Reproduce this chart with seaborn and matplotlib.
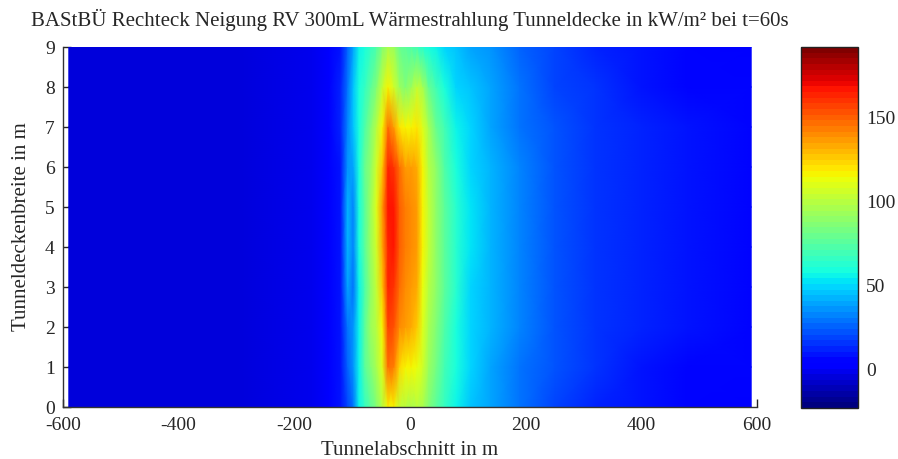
import numpy as np
import matplotlib
matplotlib.use("Agg")
import matplotlib.pyplot as plt
import seaborn as sns

# Tunnel section positions (m) and ceiling width positions (m)
x_pos = [-590, -300, -170, -140, -120, -108, -98, -88, -78, -68,
         -58, -48, -38, -28, -18, -8, 2, 12, 22, 32,
         45, 60, 80, 105, 140, 190, 250, 320, 400, 480, 590]
y_pos = [0, 1, 2, 3, 4, 5, 6, 7, 8, 9]

# Heat radiation at the tunnel ceiling (kW/m²), one list per width position
q_y0 = [-3, -3, -2, 1, 8, 20, 30, 55, 65, 75, 85, 100, 118, 115, 104, 100, 97, 100, 95, 85, 75, 65, 55, 45, 38, 28, 19, 13, 9, 6, 3]
q_y1 = [-3, -3, -2, 2, 8, 25, 35, 55, 75, 85, 95, 110, 146, 143, 122, 118, 115, 114, 105, 92, 82, 70, 58, 48, 40, 30, 21, 15, 10, 7, 4]
q_y2 = [-3, -3, -2, 2, 8, 30, 35, 55, 75, 92, 100, 118, 158, 155, 140, 135, 132, 125, 110, 95, 85, 73, 60, 49, 41, 31, 22, 16, 11, 8, 4]
q_y3 = [-3, -3, -2, 2, 8, 38, 30, 55, 72, 90, 102, 125, 162, 161, 146, 140, 138, 133, 114, 100, 88, 75, 61, 50, 42, 32, 23, 16, 12, 8, 5]
q_y4 = [-3, -3, -2, 2, 8, 42, 32, 58, 75, 92, 108, 133, 165, 166, 150, 143, 141, 137, 116, 102, 90, 77, 62, 51, 43, 33, 23, 17, 12, 9, 5]
q_y5 = [-3, -3, -2, 2, 8, 42, 32, 58, 75, 92, 110, 135, 166, 166, 150, 143, 141, 137, 116, 102, 90, 77, 62, 51, 43, 33, 23, 17, 12, 9, 5]
q_y6 = [-3, -3, -2, 3, 10, 35, 40, 60, 78, 90, 106, 128, 162, 160, 145, 138, 137, 132, 116, 100, 88, 74, 60, 50, 42, 32, 22, 16, 12, 8, 5]
q_y7 = [-3, -3, -2, 3, 12, 32, 45, 60, 72, 85, 98, 118, 145, 138, 120, 116, 118, 120, 110, 95, 80, 68, 57, 48, 40, 30, 21, 15, 11, 8, 4]
q_y8 = [-3, -3, -2, 2, 12, 30, 45, 58, 65, 75, 85, 102, 115, 108, 92, 87, 94, 102, 95, 80, 68, 58, 50, 45, 38, 28, 20, 14, 10, 7, 4]
q_y9 = [-3, -3, -2, 2, 10, 25, 40, 55, 60, 65, 72, 85, 95, 92, 80, 75, 72, 68, 62, 58, 55, 50, 45, 40, 35, 26, 18, 13, 9, 6, 3]

x_ticks = [-600, -400, -200, 0, 200, 400, 600]
y_ticks = [0, 1, 2, 3, 4, 5, 6, 7, 8, 9]
cbar_ticks = [0, 50, 100, 150]
q_min, q_max = -23, 192

sns.set_style("white")
plt.rcParams["font.family"] = ["Liberation Serif", "DejaVu Serif"]
plt.rcParams["font.size"] = 15

field = np.array([q_y0, q_y1, q_y2, q_y3, q_y4, q_y5, q_y6, q_y7, q_y8, q_y9], dtype=float)
X, Y = np.meshgrid(np.array(x_pos, dtype=float), np.array(y_pos, dtype=float))

cmap = plt.get_cmap("jet", 64)

fig = plt.figure(figsize=(8.98, 4.59), dpi=100)
ax = fig.add_axes([63 / 898, 52 / 459, 694 / 898, 360 / 459])
cax = fig.add_axes([801 / 898, 51 / 459, 57 / 898, 361 / 459])

mesh = ax.pcolormesh(X, Y, field, shading="gouraud", cmap=cmap, vmin=q_min, vmax=q_max)

ax.set_xlim(-600, 600)
ax.set_ylim(0, 9)
ax.set_xticks(x_ticks)
ax.set_yticks(y_ticks)
ax.set_xticklabels([str(v) for v in x_ticks])
ax.set_yticklabels([str(v) for v in y_ticks])
ax.tick_params(direction="in", length=6, width=1.0, color="#222222", labelsize=14,
               bottom=True, left=True, top=False, right=False)
ax.tick_params(axis="x", pad=7)
ax.tick_params(axis="y", pad=6)
for side in ("top", "right"):
    ax.spines[side].set_visible(False)
for side in ("left", "bottom"):
    ax.spines[side].set_color("#333333")
    ax.spines[side].set_linewidth(1.0)

ax.set_xlabel("Tunnelabschnitt in m", fontsize=15, labelpad=5)
ax.set_ylabel("Tunneldeckenbreite in m", fontsize=15, labelpad=10)
ax.set_title("BAStBÜ Rechteck Neigung RV 300mL Wärmestrahlung Tunneldecke in kW/m² bei t=60s",
             fontsize=15, pad=15)

sm = matplotlib.cm.ScalarMappable(norm=matplotlib.colors.Normalize(q_min, q_max), cmap=cmap)
cb = fig.colorbar(sm, cax=cax)
cb.set_ticks(cbar_ticks)
cb.ax.tick_params(direction="in", length=5, width=1.0, labelsize=14, pad=6, color="#222222")
cb.outline.set_edgecolor("#222222")
cb.outline.set_linewidth(1.0)

fig.savefig("out.png", dpi=100)
